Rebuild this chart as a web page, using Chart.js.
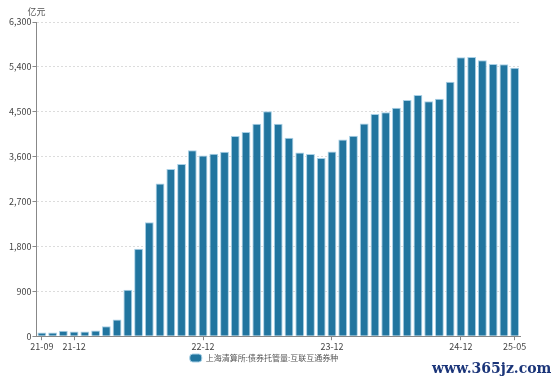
<!DOCTYPE html>
<html>
<head>
<meta charset="utf-8">
<script src="https://cdn.jsdelivr.net/npm/chart.js@4.4.1/dist/chart.umd.min.js"></script>
<style>
  html, body { margin: 0; padding: 0; background: #fff; }
  #wrap { width: 554px; height: 384px; position: relative; }
</style>
</head>
<body>
<div id="wrap"><canvas id="myChart"></canvas></div>
<script>
// months, 21-09 .. 25-05
const months = [
    '21-09','21-10','21-11','21-12',
    '22-01','22-02','22-03','22-04','22-05','22-06','22-07','22-08','22-09','22-10','22-11','22-12',
    '23-01','23-02','23-03','23-04','23-05','23-06','23-07','23-08','23-09','23-10','23-11','23-12',
    '24-01','24-02','24-03','24-04','24-05','24-06','24-07','24-08','24-09','24-10','24-11','24-12',
    '25-01','25-02','25-03','25-04','25-05'
];
// 亿元
const custody = [
    74, 74, 107, 94,
    94, 114, 200, 334, 930, 1752, 2287, 3064, 3351, 3451, 3726, 3625,
    3658, 3698, 4013, 4093, 4260, 4508, 4260, 3980, 3685, 3652, 3571, 3705,
    3946, 4019, 4267, 4454, 4488, 4581, 4735, 4835, 4709, 4762, 5103, 5591,
    5598, 5531, 5457, 5451, 5384
];
const shownMonths = ['21-09','21-12','22-12','23-12','24-12','25-05'];
const seriesName = '上海清算所:债券托管量:互联互通券种';
const unitLabel = '亿元';

const FONT = '"Noto Sans CJK SC", "Noto Sans", sans-serif';

// unit text above the y axis + watermark
const extraText = {
    id: 'extraText',
    afterDraw(chart) {
        const c = chart.ctx;
        const y = chart.scales.y;
        c.save();
        c.font = '9px ' + FONT;
        c.fillStyle = '#555';
        c.textAlign = 'center';
        c.textBaseline = 'middle';
        c.fillText(unitLabel, y.right, 12);
        c.font = 'bold 14px "DejaVu Serif", serif';
        c.fillStyle = '#1b3579';
        c.textAlign = 'left';
        c.fillText('www.365jz.com', 432, 369);
        c.restore();
    }
};

const ctx = document.getElementById('myChart').getContext('2d');
const myChart = new Chart(ctx, {
    type: 'bar',
    data: {
        labels: months,
        datasets: [{
            label: seriesName,
            data: custody,
            backgroundColor: '#21759f',
            borderColor: '#a8d0e6',
            borderWidth: 1,
            categoryPercentage: 1.0,
            barPercentage: 0.82
        }]
    },
    options: {
        responsive: true,
        maintainAspectRatio: false,
        animation: false,
        layout: {
            padding: { left: 8, right: 34, top: 22, bottom: 12 }
        },
        plugins: {
            legend: {
                position: 'bottom',
                labels: {
                    font: { family: FONT, size: 8 },
                    color: '#555',
                    boxWidth: 12,
                    boxHeight: 8,
                    useBorderRadius: true,
                    borderRadius: 3,
                    padding: 1
                }
            },
            tooltip: { enabled: false }
        },
        scales: {
            x: {
                offset: true,
                border: { display: true, color: '#888', width: 1 },
                grid: {
                    offset: false,
                    drawOnChartArea: false,
                    drawTicks: true,
                    tickLength: 4,
                    color: function(c) {
                        return (c.tick && shownMonths.includes(months[c.index])) ? '#888' : 'rgba(0,0,0,0)';
                    }
                },
                ticks: {
                    autoSkip: false,
                    maxRotation: 0,
                    padding: 1,
                    font: { family: FONT, size: 9 },
                    color: '#444',
                    callback: function(val, i) {
                        return shownMonths.includes(months[i]) ? months[i] : '';
                    }
                }
            },
            y: {
                min: 0,
                max: 6300,
                border: { display: true, color: '#888', width: 1, dash: [2, 2] },
                grid: {
                    color: '#dcdcdc',
                    tickColor: '#888',
                    tickLength: 4,
                    tickBorderDash: [],
                    lineWidth: 1
                },
                ticks: {
                    stepSize: 900,
                    padding: 1,
                    font: { family: FONT, size: 9 },
                    color: '#444',
                    callback: function(v) { return v.toLocaleString('en-US'); }
                }
            }
        }
    },
    plugins: [extraText]
});
</script>
</body>
</html>
